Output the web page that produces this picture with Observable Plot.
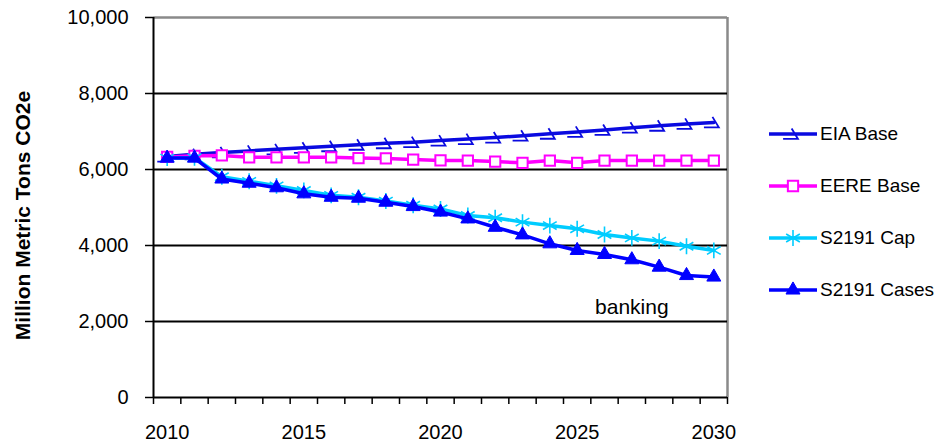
<!DOCTYPE html>
<html><head><meta charset="utf-8">
<script src="https://cdn.jsdelivr.net/npm/d3@7"></script>
<script src="https://cdn.jsdelivr.net/npm/@observablehq/plot@0.6"></script>
<style>
body{margin:0;background:#fff;font-family:"Liberation Sans",Arial,sans-serif}
#wrap{position:relative;width:938px;height:444px;overflow:hidden}
.item{position:absolute;left:769px;display:flex;align-items:center;height:24px;white-space:nowrap;font-size:19px;color:#000}
.item svg{display:block;margin-right:3px}
</style></head><body><div id="wrap"><div id="chart"></div></div>
<script>
const years = [2010,2011,2012,2013,2014,2015,2016,2017,2018,2019,2020,2021,2022,2023,2024,2025,2026,2027,2028,2029,2030];
const eiaBase   = [6340,6400,6450,6490,6530,6570,6610,6650,6690,6720,6760,6800,6840,6890,6940,6990,7040,7100,7150,7200,7240];
const eereBase  = [6330,6360,6370,6320,6320,6320,6320,6300,6290,6260,6240,6235,6210,6175,6235,6175,6235,6235,6235,6235,6235];
const s2191Cap  = [6300,6310,5810,5690,5570,5450,5320,5270,5170,5060,4960,4790,4730,4615,4525,4440,4290,4200,4115,3980,3870];
const s2191Case = [6300,6300,5750,5640,5520,5360,5270,5245,5140,5025,4880,4700,4480,4280,4045,3870,3765,3625,3430,3210,3170];
const seriesNames = ["EIA Base","EERE Base","S2191 Cap","S2191 Cases"];
const yTicks = [0,2000,4000,6000,8000,10000];
const gridValues = [2000,4000,6000,8000];
const xLabelYears = [2010,2015,2020,2025,2030];
const yTitle = ["Million Metric Tons CO2e"];
const noteText = ["banking"];
const noteYear = [2027];
const noteValue = [2370];

const colors = {"EIA Base":"#0a0ae0","EERE Base":"#ff00ff","S2191 Cap":"#00ccff","S2191 Cases":"#0000ff"};

// custom EIA marker
const eiaSymbol = {draw(ctx, size){ const r = Math.sqrt(size/Math.PI);
  ctx.moveTo(-0.25*r,-r); ctx.lineTo(0.9*r,0.9*r); ctx.lineTo(-1.8*r,0.9*r); }};

const allValues = [eiaBase, eereBase, s2191Cap, s2191Case];
const rows = [];
seriesNames.forEach((n,k)=> allValues[k].forEach((v,i)=> rows.push({series:n, year:years[i], value:v})));
const bySeries = n => rows.filter(r=>r.series===n);

const x0 = years[0]-0.5, x1 = years[years.length-1]+0.5;
const boundaries = years.map(y=>y-0.5).concat([x1]);
const notes = noteText.map((t,i)=>({t, year:noteYear[i], value:noteValue[i]}));

const chart = Plot.plot({
  width:938, height:444,
  marginLeft:153, marginRight:211, marginTop:17, marginBottom:47,
  style:{fontFamily:"'Liberation Sans',Arial,sans-serif", background:"white", overflow:"visible", color:"#000"},
  x:{domain:[x0,x1]},
  y:{domain:[yTicks[0], yTicks[yTicks.length-1]]},
  marks:[
    Plot.ruleY([yTicks[yTicks.length-1]], {stroke:"#8a8a8a", strokeWidth:2.5}),
    Plot.ruleX([x1], {stroke:"#8a8a8a", strokeWidth:2.5}),
    Plot.ruleY(gridValues, {stroke:"#000", strokeWidth:2}),
    Plot.axisY(yTicks, {tickSize:8, tickPadding:17, tickFormat:d3.format(","), fontSize:20, label:null, strokeWidth:1.5}),
    Plot.axisX(boundaries, {tickSize:7, tickFormat:()=>"", label:null, strokeWidth:1.5}),
    Plot.axisX(xLabelYears, {tickSize:0, tickPadding:27, tickFormat:d=>String(d), fontSize:20, label:null}),
    Plot.ruleX([x0], {stroke:"#000", strokeWidth:2}),
    Plot.ruleY([yTicks[0]], {stroke:"#000", strokeWidth:2}),
    // EIA Base
    Plot.line(bySeries("EIA Base"), {x:"year", y:"value", stroke:colors["EIA Base"], strokeWidth:3.5}),
    Plot.dot(bySeries("EIA Base"), {x:"year", y:"value", symbol:eiaSymbol, r:5.5, fill:"none", stroke:colors["EIA Base"], strokeWidth:1.8}),
    // EERE Base
    Plot.line(bySeries("EERE Base"), {x:"year", y:"value", stroke:colors["EERE Base"], strokeWidth:3.5}),
    Plot.dot(bySeries("EERE Base"), {x:"year", y:"value", symbol:"square", r:5.8, fill:"white", stroke:colors["EERE Base"], strokeWidth:2}),
    // S2191 Cap
    Plot.line(bySeries("S2191 Cap"), {x:"year", y:"value", stroke:colors["S2191 Cap"], strokeWidth:3.5}),
    Plot.dot(bySeries("S2191 Cap"), {x:"year", y:"value", symbol:"asterisk", r:7.5, stroke:colors["S2191 Cap"], strokeWidth:1.6}),
    // S2191 Cases
    Plot.line(bySeries("S2191 Cases"), {x:"year", y:"value", stroke:colors["S2191 Cases"], strokeWidth:3.5}),
    Plot.dot(bySeries("S2191 Cases"), {x:"year", y:"value", symbol:"triangle", r:5.2, fill:colors["S2191 Cases"], stroke:colors["S2191 Cases"], strokeWidth:1}),
    Plot.text(notes, {x:"year", y:"value", text:"t", fontSize:21, fill:"#000"}),
    Plot.text(yTitle, {frameAnchor:"left", textAnchor:"middle", rotate:-90, dx:-130, dy:8, fontSize:21, fontWeight:"bold", fill:"#000", text:d=>d})
  ]
});
document.getElementById("chart").appendChild(chart);

// Legend
const legendCenters = [134,186,238,290];
const symbolsFor = {"EIA Base":eiaSymbol, "EERE Base":d3.symbolSquare, "S2191 Cap":d3.symbolAsterisk, "S2191 Cases":d3.symbolTriangle};
const rFor = {"EIA Base":5.5, "EERE Base":5.8, "S2191 Cap":7.5, "S2191 Cases":5.2};
const wrap = document.getElementById("wrap");
seriesNames.forEach((n,i)=>{
  const div = document.createElement("div");
  div.className = "item";
  div.style.top = (legendCenters[i]-12)+"px";
  const c = colors[n];
  const r = rFor[n];
  const path = d3.symbol(symbolsFor[n], Math.PI*r*r)();
  let fill = "none", sw = 1.8;
  if (n==="EERE Base") { fill="white"; sw=2; }
  if (n==="S2191 Cases") { fill=c; sw=1; }
  if (n==="S2191 Cap") { sw=1.6; }
  div.innerHTML = `<svg width="48" height="24"><line x1="0" x2="48" y1="12" y2="12" stroke="${c}" stroke-width="3.5"/><path transform="translate(24,12)" d="${path}" fill="${fill}" stroke="${c}" stroke-width="${sw}"/></svg><span>${n}</span>`;
  wrap.appendChild(div);
});
</script></body></html>
